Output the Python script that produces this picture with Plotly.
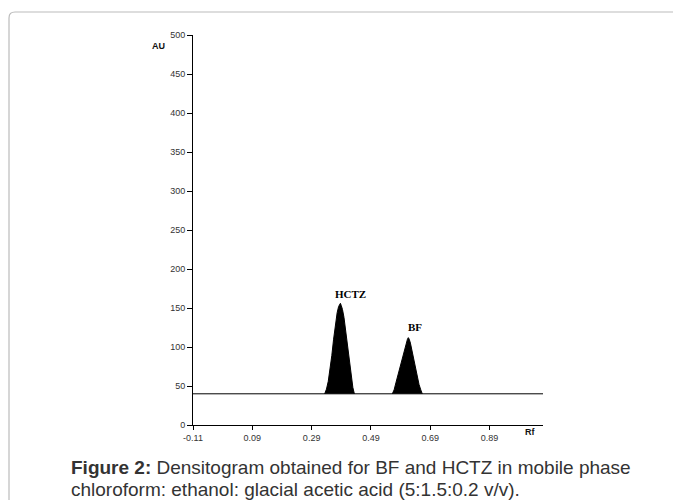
import plotly.graph_objects as go

# Data
baseline_au = 40
x_range = [-0.11, 1.07]

hctz_rf = [0.334, 0.340, 0.346, 0.352, 0.358, 0.364, 0.370, 0.376, 0.381, 0.385, 0.387,
           0.390, 0.394, 0.399, 0.405, 0.411, 0.417, 0.423, 0.429, 0.434]
hctz_au = [40, 46, 56, 70, 89, 110, 130, 144, 152, 155, 156,
           153, 148, 138, 120, 100, 80, 62, 48, 40]

bf_rf = [0.562, 0.568, 0.574, 0.580, 0.586, 0.592, 0.598, 0.604, 0.609, 0.613, 0.616,
         0.619, 0.623, 0.628, 0.634, 0.640, 0.646, 0.652, 0.658, 0.663]
bf_au = [40, 45, 54, 63, 72, 80, 89, 99, 106, 110, 112,
         110, 105, 96, 84, 72, 61, 52, 45, 40]

x_tickvals = [-0.11, 0.09, 0.29, 0.49, 0.69, 0.89]
x_ticktext = ["-0.11", "0.09", "0.29", "0.49", "0.69", "0.89"]
y_tickvals = [0, 50, 100, 150, 200, 250, 300, 350, 400, 450, 500]

peak_labels = ["HCTZ", "BF"]
peak_label_x = [0.421, 0.640]
peak_label_y = [168, 126]

fig = go.Figure()

fig.add_trace(go.Scatter(x=x_range, y=[baseline_au, baseline_au], mode="lines",
                         line=dict(color="black", width=1), hoverinfo="skip"))
for rf, au in [(hctz_rf, hctz_au), (bf_rf, bf_au)]:
    fig.add_trace(go.Scatter(x=rf, y=au, mode="lines", fill="toself",
                             fillcolor="black", line=dict(color="black", width=1)))

for t, xx, yy in zip(peak_labels, peak_label_x, peak_label_y):
    fig.add_annotation(x=xx, y=yy, text="<b>%s</b>" % t, showarrow=False,
                       xanchor="center", yanchor="middle",
                       font=dict(family="Liberation Serif", size=11, color="black"))

fig.add_annotation(xref="paper", yref="paper", x=(158 - 193) / 350, y=(425 - 46) / 390,
                   text="<b>AU</b>", xanchor="center", yanchor="middle",
                   showarrow=False, font=dict(family="Liberation Sans", size=9, color="#111"))
fig.add_annotation(xref="paper", yref="paper", x=(530 - 193) / 350, y=(425 - 432) / 390,
                   text="<b>Rf</b>", xanchor="center", yanchor="middle",
                   showarrow=False, font=dict(family="Liberation Sans", size=9, color="#111"))

fig.add_annotation(xref="paper", yref="paper", x=(69 - 193) / 350, y=(425 - 467.5) / 390,
                   xanchor="left", yanchor="middle", showarrow=False, align="left",
                   text="<b>Figure 2:</b> Densitogram obtained for BF and HCTZ in mobile phase",
                   font=dict(family="Liberation Sans", size=19, color="#333"))
fig.add_annotation(xref="paper", yref="paper", x=(69 - 193) / 350, y=(425 - 489) / 390,
                   xanchor="left", yanchor="middle", showarrow=False, align="left",
                   text="chloroform: ethanol: glacial acetic acid (5:1.5:0.2 v/v).",
                   font=dict(family="Liberation Sans", size=19, color="#333"))

# card border
def px(xp):
    return (xp - 193) / 350
def py(yp):
    return (425 - yp) / 390
path = "M %f %f L %f %f Q %f %f %f %f L %f %f" % (
    px(9), py(520), px(9), py(18), px(9), py(12), px(15), py(12), px(700), py(12))
fig.add_shape(type="path", xref="paper", yref="paper", path=path,
              line=dict(color="#bbbbbb", width=1.2))

fig.update_layout(
    width=673, height=492,
    margin=dict(l=185, r=138, t=27, b=75),
    paper_bgcolor="white", plot_bgcolor="white",
    showlegend=False,
    font=dict(family="Liberation Sans", size=9, color="#333"),
)
fig.update_xaxes(range=x_range, tickvals=x_tickvals, ticktext=x_ticktext,
                 showline=True, linecolor="black", linewidth=1, ticks="outside",
                 ticklen=4, tickcolor="black", showgrid=False, zeroline=False,
                 tickfont=dict(size=9, color="#333"))
fig.update_yaxes(range=[0, 500], tickvals=y_tickvals,
                 showline=True, linecolor="black", linewidth=1, ticks="outside",
                 ticklen=5, tickcolor="black", showgrid=False, zeroline=False,
                 tickfont=dict(size=9, color="#333"))

fig.write_html("out.html")
